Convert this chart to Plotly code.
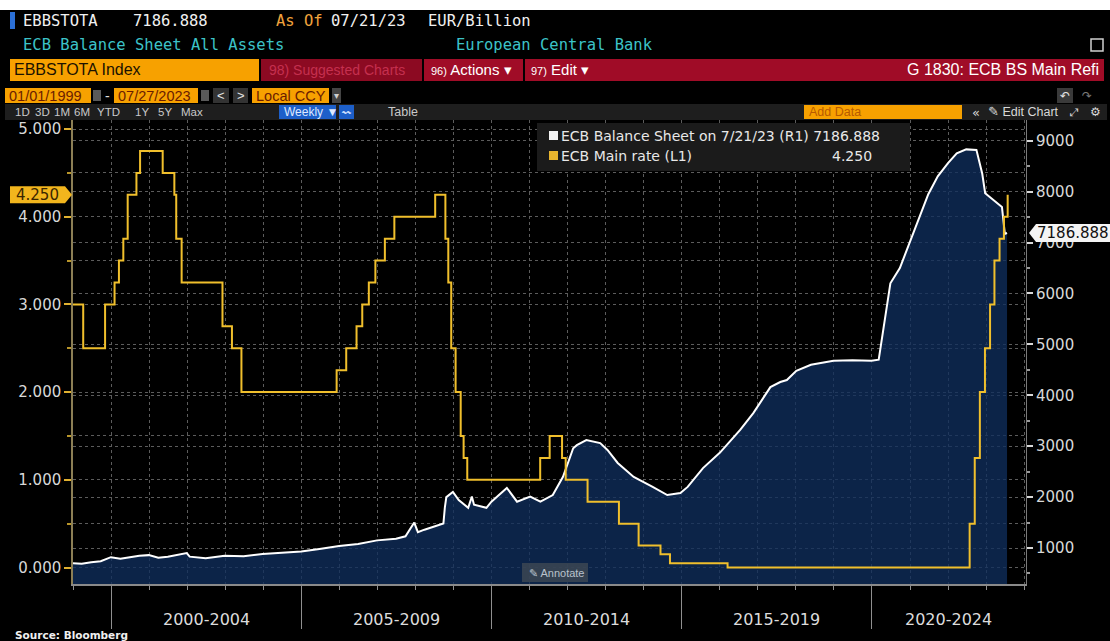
import pandas as pd
import plotly.graph_objects as go

# ---------------- data ----------------
# ECB balance sheet, all assets (EUR bn), right axis
bs_dates = [
    "1999-01-01", "1999-03-26", "1999-06-25", "1999-09-24", "1999-12-31",
    "2000-03-31", "2000-06-30", "2000-09-29", "2000-12-29", "2001-03-30",
    "2001-06-29", "2001-09-28", "2001-12-28", "2002-01-25", "2002-06-28",
    "2002-12-27", "2003-06-27", "2003-12-26", "2004-06-25", "2004-12-31",
    "2005-06-24", "2005-12-30", "2006-06-30", "2006-12-29", "2007-06-29",
    "2007-09-28", "2007-12-21", "2008-01-25", "2008-03-28", "2008-06-27",
    "2008-09-26", "2008-10-10", "2008-10-24", "2008-12-26", "2009-02-20",
    "2009-05-22", "2009-06-26", "2009-07-17", "2009-11-13", "2009-12-31",
    "2010-05-28", "2010-09-03", "2011-01-07", "2011-04-15", "2011-08-12",
    "2011-11-18", "2011-12-30", "2012-02-24", "2012-03-30", "2012-06-29",
    "2012-11-09", "2013-01-18", "2013-04-26", "2013-09-27", "2014-03-28",
    "2014-08-15", "2014-12-19", "2015-02-27", "2015-07-24", "2016-01-01",
    "2016-07-15", "2016-11-18", "2017-05-01", "2017-08-04", "2017-10-06",
    "2018-01-05", "2018-05-25", "2018-12-28", "2019-06-28", "2019-12-27",
    "2020-03-06", "2020-03-27", "2020-05-01", "2020-06-26", "2020-09-25",
    "2020-12-25", "2021-03-26", "2021-06-25", "2021-09-24", "2021-12-31",
    "2022-03-25", "2022-06-24", "2022-09-30", "2022-11-25", "2022-12-23",
    "2023-03-31", "2023-06-02", "2023-06-30", "2023-07-21",
]
bs_values = [
    700, 690, 720, 740, 820,
    790, 820, 850, 860, 810,
    830, 870, 900, 830, 800,
    850, 840, 880, 900, 930,
    980, 1040, 1080, 1150, 1180,
    1230, 1500, 1310, 1360, 1420,
    1480, 1800, 2000, 2100, 1940,
    1790, 2010, 1850, 1790, 1910,
    2180, 1910, 2010, 1910, 2040,
    2400, 2650, 2960, 3020, 3120,
    3060, 2925, 2670, 2395, 2200,
    2040, 2080, 2200, 2570, 2870,
    3320, 3650, 4160, 4260, 4300,
    4480, 4600, 4680, 4690, 4680,
    4700, 5000, 5400, 6200, 6500,
    6980, 7500, 7950, 8300, 8560,
    8750, 8830, 8820, 8350, 7970,
    7800, 7700, 7170, 7186.888,
]

# ECB main refinancing rate (%), left axis
rate_dates = [
    "1999-01-01", "1999-04-09", "1999-11-05", "2000-02-04", "2000-03-17",
    "2000-04-28", "2000-06-09", "2000-09-01", "2000-10-06", "2001-05-11",
    "2001-08-31", "2001-09-18", "2001-11-09", "2002-12-06", "2003-03-07",
    "2003-06-06", "2005-12-06", "2006-03-08", "2006-06-15", "2006-08-09",
    "2006-10-11", "2006-12-13", "2007-03-14", "2007-06-13", "2008-07-09",
    "2008-10-15", "2008-11-12", "2008-12-10", "2009-01-21", "2009-03-11",
    "2009-04-08", "2009-05-13", "2011-04-13", "2011-07-13", "2011-11-09",
    "2011-12-14", "2012-07-11", "2013-05-08", "2013-11-13", "2014-06-11",
    "2014-09-10", "2016-03-16", "2022-07-27", "2022-09-14", "2022-11-02",
    "2022-12-21", "2023-02-08", "2023-03-22", "2023-05-10", "2023-06-21",
    "2023-07-27",
]
rate_values = [
    3.00, 2.50, 3.00, 3.25, 3.50,
    3.75, 4.25, 4.50, 4.75, 4.50,
    4.25, 3.75, 3.25, 2.75, 2.50,
    2.00, 2.25, 2.50, 2.75, 3.00,
    3.25, 3.50, 3.75, 4.00, 4.25,
    3.75, 3.25, 2.50, 2.00, 1.50,
    1.25, 1.00, 1.25, 1.50, 1.25,
    1.00, 0.75, 0.50, 0.25, 0.15,
    0.05, 0.00, 0.50, 1.25, 2.00,
    2.50, 3.00, 3.50, 3.75, 4.00,
    4.25,
]

period_starts = ["2000-01-01", "2005-01-01", "2010-01-01", "2015-01-01", "2020-01-01"]
period_labels = ["2000-2004", "2005-2009", "2010-2014", "2015-2019", "2020-2024"]

X_RANGE = ["1999-01-01", "2024-01-19"]
RATE_RANGE = [-0.188, 5.103]
BS_RANGE = [293, 9407]

# ---------------- page geometry ----------------
W, H = 1110, 641
ML, MR, MT, MB = 73, 84, 120, 57
PW, PH = W - ML - MR, H - MT - MB


def px(x):
    return (x - ML) / PW


def py(y):
    return (H - MB - y) / PH


MONO = "DejaVu Sans Mono"
NARROW = "Liberation Sans, Arial, sans-serif"
SANS = "DejaVu Sans"

shapes = []
annotations = []


def rect(x0, y0, x1, y1, color, line=None):
    shapes.append(dict(type="rect", xref="paper", yref="paper",
                       x0=px(x0), x1=px(x1), y0=py(y1), y1=py(y0),
                       fillcolor=color, line=dict(width=0) if line is None else line,
                       layer="above"))


def text(x, y, s, color="#e6e6e6", size=15, family=MONO, anchor="left"):
    annotations.append(dict(x=px(x), y=py(y), xref="paper", yref="paper",
                            text=s, showarrow=False, xanchor=anchor, yanchor="middle",
                            borderpad=0, font=dict(color=color, size=size, family=family)))


def poly(points, color):
    path = "M " + " L ".join(f"{px(a)},{py(b)}" for a, b in points) + " Z"
    shapes.append(dict(type="path", xref="paper", yref="paper", path=path,
                       fillcolor=color, line=dict(width=0), layer="above"))


# ---------------- traces ----------------
fig = go.Figure()
fig.add_trace(go.Scatter(
    x=pd.to_datetime(bs_dates), y=bs_values, yaxis="y", mode="lines",
    line=dict(color="#ffffff", width=2), fill="tozeroy",
    fillcolor="rgba(16,46,92,0.78)", hoverinfo="skip", showlegend=False))
fig.add_trace(go.Scatter(
    x=pd.to_datetime(rate_dates), y=rate_values, yaxis="y2", mode="lines",
    line=dict(color="#f0bf2c", width=2, shape="hv"), hoverinfo="skip",
    showlegend=False))

grid = "#5c5c5c"

# ---------------- header bars ----------------
rect(0, 0, W, 10, "#ffffff")
# row 1
rect(10, 12, 15, 29, "#2b6fd6")
text(22, 21, "EBBSTOTA", "#f0f0f0", 15.5)
text(132, 21, f"{bs_values[-1]:.3f}", "#f0f0f0", 15.5)
text(275, 21, "As Of", "#f0a33c", 15.5)
text(330, 21, pd.Timestamp(bs_dates[-1]).strftime("%m/%d/%y"), "#f0f0f0", 15.5)
text(427, 21, "EUR/Billion", "#f0f0f0", 15.5)
# row 2
text(22, 45, "ECB Balance Sheet All Assets", "#3cc3c8", 15.5)
text(654, 45, "European Central Bank", "#3cc3c8", 15.5, anchor="right")
rect(1091, 39, 1103, 51, "rgba(0,0,0,0)", line=dict(color="#d0d0d0", width=1.5))
# row 3
rect(10, 59, 259, 81, "#f7a100")
text(13, 70, "EBBSTOTA Index", "#1b1200", 16, NARROW)
rect(261, 59, 422, 81, "#8c0a22")
text(268, 70, "98) Suggested Charts", "#c5304f", 14, NARROW)
rect(424, 59, 523, 81, "#a00c27")
text(430, 70, "<span style='font-size:11px'>96)</span> Actions ▾", "#ffffff", 15, NARROW)
rect(525, 59, 1104, 81, "#a00c27")
text(530, 70, "<span style='font-size:11px'>97)</span> Edit ▾", "#ffffff", 15, NARROW)
text(1100, 70, "G 1830: ECB BS Main Refi", "#ffffff", 16, NARROW, anchor="right")
# row 4
rect(5, 88, 91, 103, "#f7a100")
text(8, 95.5, pd.Timestamp(X_RANGE[0]).strftime("%m/%d/%Y"), "#6a1c00", 14.5, NARROW)
rect(93, 90, 101, 101, "#5a5a5a")
text(104, 95.5, "-", "#e0e0e0", 14, NARROW)
rect(114, 88, 198, 103, "#f7a100")
text(117, 95.5, "07/27/2023", "#6a1c00", 14.5, NARROW)
rect(201, 90, 209, 101, "#5a5a5a")
rect(213, 88, 229, 103, "#333333")
text(221, 95.5, "<", "#e6e6e6", 13, NARROW, anchor="center")
rect(233, 88, 248, 103, "#333333")
text(240.5, 95.5, ">", "#e6e6e6", 13, NARROW, anchor="center")
rect(252, 88, 329, 103, "#f7a100")
text(255, 95.5, "Local CCY", "#6a1c00", 14.5, NARROW)
rect(332, 88, 341, 103, "#444444")
text(336.5, 95.5, "▾", "#cfcfcf", 10, SANS, anchor="center")
rect(1057, 88, 1073, 103, "#3a3a3a")
text(1065, 95.5, "↶", "#e6e6e6", 12, SANS, anchor="center")
text(1087, 95.5, "↷", "#7a7a7a", 12, SANS, anchor="center")
# row 5
rect(5, 104, 1107, 120, "#1e1e1e")
for lbl, x in zip(["1D", "3D", "1M", "6M", "YTD", "1Y", "5Y", "Max"],
                  [14, 34, 53, 73, 96, 134, 157, 180]):
    text(x, 112, lbl, "#c9c9c9", 11.5, NARROW)
rect(279, 105, 336, 119, "#1d5fc9")
text(283, 112, "Weekly ▼", "#dfe9ff", 12, NARROW)
rect(339, 105, 354, 119, "#1d5fc9")
text(346.5, 112, "〰", "#cfe0ff", 9, SANS, anchor="center")
text(387, 112, "Table", "#c9c9c9", 12.5, NARROW)
rect(804, 105, 962, 119, "#f7a100")
text(808, 112, "Add Data", "#b85a00", 12.5, NARROW)
text(971, 112, "«", "#d8d8d8", 13, SANS)
text(987, 112, "✎ Edit Chart", "#d8d8d8", 12.5, NARROW)
text(1069, 112, "⤢", "#d8d8d8", 11, SANS)
text(1089, 112, "⚙", "#d8d8d8", 12, SANS)

# ---------------- legend box ----------------
bs_end = pd.Timestamp(bs_dates[-1])
rect(537, 123, 910, 171, "#1b1b1b")
rect(549, 131, 558, 140, "#f2f2f2")
rect(549, 151, 558, 160, "#e8b52e")
text(560, 136, f"ECB Balance Sheet on {bs_end.month}/{bs_end.day}/{bs_end:%y} (R1) {bs_values[-1]:.3f}",
     "#e8e8e8", 14, SANS)
text(560, 156, "ECB Main rate (L1)", "#e8e8e8", 14, SANS)
text(873, 156, f"{rate_values[-1]:.3f}", "#e8e8e8", 14, SANS, anchor="right")

# ---------------- last-value tags ----------------
ry = MT + (RATE_RANGE[1] - rate_values[-1]) / (RATE_RANGE[1] - RATE_RANGE[0]) * PH
poly([(10, ry - 8.5), (65, ry - 8.5), (72, ry), (65, ry + 8.5), (10, ry + 8.5)], "#f2b51d")
text(37, ry, f"{rate_values[-1]:.3f}", "#3a2600", 15, SANS, anchor="center")

by = MT + (BS_RANGE[1] - bs_values[-1]) / (BS_RANGE[1] - BS_RANGE[0]) * PH
poly([(1029, by), (1036, by - 9), (1110, by - 9), (1110, by + 9), (1036, by + 9)], "#f4f4f4")
text(1073, by, f"{bs_values[-1]:.3f}", "#111111", 15, SANS, anchor="center")

# ---------------- annotate button, period labels, source ----------------
rect(522, 563, 588, 582, "rgba(60,70,84,0.85)")
text(528, 572.5, "✎ Annotate", "#b9c2cc", 11, NARROW)

x_end = pd.Timestamp(X_RANGE[1])
for start, lbl in zip(period_starts, period_labels):
    s = pd.Timestamp(start)
    e = min(s + pd.DateOffset(years=5), x_end)
    mid = s + (e - s) / 2
    annotations.append(dict(x=mid, y=py(619), xref="x", yref="paper", text=lbl,
                            showarrow=False, xanchor="center", yanchor="middle",
                            font=dict(color="#dcdcdc", size=16, family=SANS)))

text(14, 635, "<b>Source: Bloomberg</b>", "#f0f0f0", 10.5, SANS)

# ---------------- layout ----------------
fig.update_layout(
    width=W, height=H,
    margin=dict(l=ML, r=MR, t=MT, b=MB, pad=0),
    paper_bgcolor="#000000", plot_bgcolor="#000000",
    showlegend=False,
    xaxis=dict(
        type="date", range=X_RANGE, tick0="2000-01-01", dtick="M60",
        showticklabels=False, ticks="outside", ticklen=43, tickwidth=1,
        tickcolor="#8f8f8f", showline=True, linecolor="#8a8a8a", linewidth=1.5,
        showgrid=True, gridcolor=grid, griddash="dot", gridwidth=1, zeroline=False,
        minor=dict(dtick="M12", tick0="1999-01-01", ticks="outside", ticklen=4,
                   tickcolor="#8f8f8f", showgrid=True, gridcolor=grid, griddash="dot"),
    ),
    yaxis=dict(
        side="right", range=BS_RANGE, tick0=0, dtick=1000,
        ticks="outside", ticklen=6, tickcolor="#d8d8d8", tickwidth=1.5,
        tickfont=dict(family=SANS, size=15, color="#d8d8d8"),
        showline=True, linecolor="#7a7a7a", linewidth=1,
        showgrid=True, gridcolor=grid, griddash="dot", zeroline=False,
        minor=dict(dtick=500, ticks="outside", ticklen=3, tickcolor="#9a9a9a",
                   showgrid=False),
    ),
    yaxis2=dict(
        overlaying="y", side="left", range=RATE_RANGE, tick0=0, dtick=1,
        tickformat=".3f", ticks="outside", ticklen=7, tickcolor="#e0b030",
        tickwidth=1.5, tickfont=dict(family=SANS, size=15, color="#d8d8d8"),
        showline=True, linecolor="#8c7f55", linewidth=1.5,
        showgrid=True, gridcolor=grid, griddash="dot", zeroline=False,
        minor=dict(dtick=0.5, ticks="outside", ticklen=4, tickcolor="#b8952a",
                   showgrid=True, gridcolor=grid, griddash="dot"),
    ),
    shapes=shapes,
    annotations=annotations,
)

fig.write_html("out.html")
